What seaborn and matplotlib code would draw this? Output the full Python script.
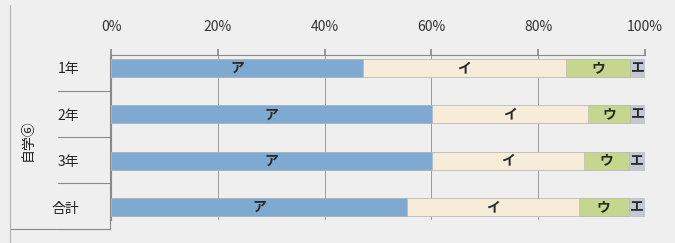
import matplotlib
matplotlib.use("Agg")
import matplotlib.pyplot as plt
import seaborn as sns
import numpy as np
import pandas as pd

categories = ["1年", "2年", "3年", "合計"]
seg_names = ["ア", "イ", "ウ", "エ"]
val_a = [47.2, 60.1, 60.1, 55.5]
val_i = [38.0, 29.2, 28.5, 32.1]
val_u = [12.0, 7.9, 8.4, 9.4]
val_e = [2.8, 2.8, 3.0, 3.0]
xticks = [0, 20, 40, 60, 80, 100]
xtick_labels = ["0%", "20%", "40%", "60%", "80%", "100%"]
group_label = "自学⑥"

colors = ["#7eaad2", "#f6ecd9", "#c6d68e", "#c4c8d4"]
bg = "#efefef"

sns.set_theme(style="white")
plt.rcParams['font.family'] = ['Noto Sans CJK JP', 'DejaVu Sans']

fig = plt.figure(figsize=(6.75, 2.43), dpi=100)
fig.patch.set_facecolor(bg)
ax = fig.add_axes([111/675, 1-220/243, (645-111)/675, (220-55)/243])
ax.set_facecolor(bg)

vals = np.array([val_a, val_i, val_u, val_e])
cums = np.cumsum(vals, axis=0)
starts = cums - vals

for k in range(3, -1, -1):
    df = pd.DataFrame({"cat": categories, "v": cums[k]})
    sns.barplot(data=df, x="v", y="cat", orient="h", color=colors[k],
                width=0.39, edgecolor="#b5b5b5", linewidth=0.4,
                saturation=1, ax=ax, zorder=3)

for k, name in enumerate(seg_names):
    for i in range(len(categories)):
        ax.text(starts[k][i] + vals[k][i] / 2, i, name, ha="center",
                va="center", fontsize=10, color="#2a2a2a", zorder=5,
                fontweight="bold")

ax.set_xlim(0, 100)
ax.set_ylim(3.28, -0.28)
ax.set_xticks(xticks)
ax.set_xticklabels(xtick_labels, fontsize=10, color="#333333")
ax.xaxis.tick_top()
ax.tick_params(axis="x", top=True, length=4, color="#8a8a8a", pad=11)
ax.tick_params(axis="y", left=False, pad=17)
ax.set_yticklabels(categories, fontsize=10, color="#222222")
ax.set_xlabel("")
ax.set_ylabel("")
ax.grid(axis="x", color="#9a9a9a", linewidth=0.7, zorder=0)
for s in ["right", "bottom"]:
    ax.spines[s].set_visible(False)
ax.spines["top"].set_color("#8a8a8a")
ax.spines["top"].set_linewidth(0.8)
ax.spines["left"].set_color("#8a8a8a")
ax.spines["left"].set_linewidth(0.8)

# left category separators
for yp in [91, 137, 183, 229]:
    fig.add_artist(plt.Line2D([58/675, 110/675], [1-yp/243, 1-yp/243],
                              color="#8a8a8a", linewidth=0.8))
fig.add_artist(plt.Line2D([10/675, 110/675], [1-229/243, 1-229/243],
                          color="#8a8a8a", linewidth=0.8))
fig.add_artist(plt.Line2D([10/675, 10/675], [1-5/243, 0], color="#b0b0b0",
                          linewidth=0.8))
fig.add_artist(plt.Line2D([110/675, 110/675], [1-229/243, 1-55/243],
                          color="#8a8a8a", linewidth=0.8))

fig.text(28/675, 1-140/243, group_label, rotation=90, ha="center",
         va="center", fontsize=10, color="#222222")

fig.savefig("out.png", dpi=100, facecolor=bg)
